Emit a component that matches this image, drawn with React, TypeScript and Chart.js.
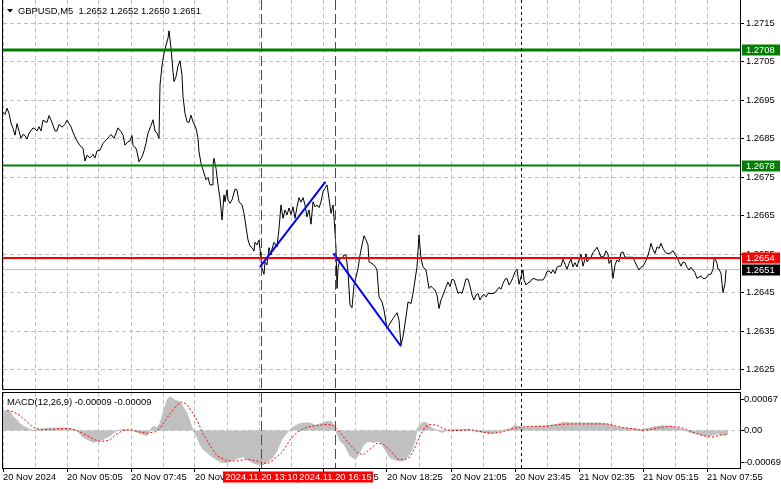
import React, { useEffect, useRef } from "react";
import { Chart, registerables } from "chart.js";

Chart.register(...registerables);

const FONT = "'Liberation Sans', Arial, sans-serif";
const FS = 9.4;

const titleText = "GBPUSD,M5  1.2652 1.2652 1.2650 1.2651";
const macdTitle = "MACD(12,26,9) -0.00009 -0.00009";

// price line: bar index -> close
const priceIdx = [
  0, 1, 2, 3, 4, 5, 6, 7, 8, 9, 10, 11, 12, 13, 15, 16, 17, 18, 19, 20, 22, 23, 24.5, 26, 27, 28, 29.5, 31, 32, 34,
  35, 37, 38.5, 40, 41, 42, 43.5, 45, 46, 47, 48.5, 50, 51.5, 53, 54, 55.5, 57.5, 59, 60, 61, 62.5, 63.5, 64.5, 65,
  66.5, 67, 68, 69.5, 70.5, 71.5, 72.5, 74, 75, 76, 77, 78, 78.5, 79.5, 80.5, 81.5, 82.5, 83, 84, 85, 85.5, 86.5,
  87.5, 88.5, 89.5, 90, 91, 92, 93, 94, 95, 96.5, 97.5, 98, 99, 100, 101.5, 102.5, 103.5, 104.5, 105, 105.5, 106.5,
  107.5, 108.5, 109.5, 110.5, 111, 112, 112.5, 113.5, 114.5, 116, 117, 118, 119.5, 120.5, 121.5, 122.5, 123.5,
  124.5, 125.5, 126, 127, 128, 128.5, 129.5, 130.5, 131, 132, 133, 134, 134.5, 135.5, 137, 138, 139, 140, 141, 142,
  143, 144, 145, 146, 147, 148, 149, 150, 151, 152, 153, 154, 155, 156, 157, 158, 159, 160, 161, 162, 163, 164, 165,
  165.5, 166.5, 167, 167.5, 168.5, 169.5, 170.5, 171.5, 172.5, 173.5, 174.5, 175.5, 176.5, 177.5, 178.5, 179.5,
  180.5, 181.5, 182.5, 183, 184.5, 186, 187, 188, 189.5, 190.5, 192, 193.5, 195, 197, 198, 199, 200, 201.5, 202.5,
  204, 205, 206, 207, 208, 209, 210, 211.5, 213, 214, 215, 216, 217, 218, 219, 220, 221.5, 222.5, 223.5, 224.5,
  225.5, 226.5, 227.5, 228.5, 229.5, 230.5, 231.5, 232.5, 233.5, 234.5, 235.5, 236.5, 237.5, 238.5, 239.5, 240.5,
  241.5, 242.5, 244, 245, 246, 247, 248, 249, 250, 251, 252, 253, 254, 255, 256, 257, 258, 259, 260, 260.5, 261.5,
  262.5, 263.5, 264.5, 265.5, 267, 268.5, 270, 271, 272, 273, 274, 275, 276, 277, 278, 279, 280, 281, 282, 283, 284,
  285, 286, 287, 288, 289, 290, 291, 291.5, 292, 293, 294, 295, 296, 297, 298, 299, 300.5, 301.5, 302.5, 303, 304,
  305, 306, 307, 308, 309, 310, 311, 312, 313.5, 315, 316, 317, 318, 319, 320, 321, 322, 323, 324, 325, 326, 327,
  328, 329, 330, 331, 332, 333, 334, 335, 336, 337, 338, 339, 340, 341, 342, 343, 344, 345, 346, 347, 348, 349, 350,
  351, 352, 353, 354, 355, 355.5, 356, 357, 357.5, 358, 359, 359.5, 360, 361, 361.5,
];
const priceVal = [
  1.26919, 1.26913, 1.26929, 1.26916, 1.2689, 1.26877, 1.26859, 1.26889, 1.2687, 1.26851, 1.26861, 1.26858, 1.26849,
  1.26864, 1.26878, 1.26875, 1.2687, 1.26881, 1.2687, 1.26898, 1.26892, 1.2691, 1.26892, 1.2687, 1.2687, 1.26887,
  1.2688, 1.26887, 1.26898, 1.26881, 1.26866, 1.26844, 1.26832, 1.26825, 1.26792, 1.26807, 1.268, 1.26809, 1.268,
  1.26818, 1.2682, 1.26838, 1.26846, 1.26855, 1.26861, 1.26851, 1.26878, 1.26868, 1.26859, 1.26833, 1.26842, 1.26844,
  1.26858, 1.26832, 1.26825, 1.26816, 1.2679, 1.26803, 1.26818, 1.26838, 1.26864, 1.26884, 1.26899, 1.2687, 1.26864,
  1.26851, 1.26989, 1.27039, 1.27072, 1.27093, 1.27111, 1.2713, 1.27085, 1.27024, 1.26998, 1.27011, 1.27039, 1.27052,
  1.27015, 1.26959, 1.26916, 1.26894, 1.26892, 1.26911, 1.26894, 1.26877, 1.26851, 1.26816, 1.26786, 1.26769,
  1.26743, 1.26749, 1.2673, 1.2673, 1.26782, 1.26799, 1.26773, 1.2673, 1.26695, 1.26639, 1.26704, 1.26686, 1.26717,
  1.26691, 1.26682, 1.26691, 1.26719, 1.26717, 1.26686, 1.26678, 1.26656, 1.26621, 1.26587, 1.26571, 1.26567,
  1.26558, 1.26581, 1.26574, 1.26587, 1.26565, 1.26513, 1.26498, 1.2653, 1.26522, 1.26567, 1.26548, 1.26563,
  1.26581, 1.26569, 1.26617, 1.26678, 1.26643, 1.26665, 1.26652, 1.2667, 1.26653, 1.26673, 1.26643, 1.26673,
  1.26697, 1.26685, 1.26697, 1.26678, 1.26647, 1.26665, 1.26628, 1.26686, 1.26673, 1.26678, 1.26671, 1.26686,
  1.26712, 1.26721, 1.2673, 1.26695, 1.26656, 1.26678, 1.26647, 1.26565, 1.26461, 1.26513, 1.26539, 1.26539,
  1.26548, 1.26548, 1.26504, 1.26418, 1.26411, 1.2647, 1.26491, 1.26513, 1.26548, 1.26574, 1.26598, 1.26587,
  1.26574, 1.2653, 1.26526, 1.26519, 1.26509, 1.26439, 1.26426, 1.26405, 1.26357, 1.2637, 1.26383, 1.26398, 1.26379,
  1.26314, 1.26336, 1.26387, 1.26426, 1.26422, 1.26448, 1.26483, 1.26517, 1.266, 1.26539, 1.26517, 1.26509, 1.26461,
  1.26467, 1.26461, 1.26457, 1.26444, 1.26409, 1.26431, 1.26444, 1.26465, 1.26478, 1.26466, 1.26485, 1.26483,
  1.26466, 1.26448, 1.26452, 1.26448, 1.26466, 1.26486, 1.26485, 1.26467, 1.26444, 1.26431, 1.26444, 1.26448,
  1.26431, 1.26441, 1.26446, 1.26439, 1.26448, 1.26448, 1.26448, 1.2645, 1.26457, 1.26464, 1.26459, 1.26474,
  1.26485, 1.26487, 1.2647, 1.26478, 1.2649, 1.26504, 1.26511, 1.26472, 1.26491, 1.26509, 1.26483, 1.2647, 1.26476,
  1.26478, 1.26485, 1.26487, 1.26483, 1.26483, 1.26483, 1.26491, 1.26505, 1.26507, 1.265, 1.26509, 1.265, 1.26516,
  1.26519, 1.26519, 1.26537, 1.26524, 1.26511, 1.26526, 1.26537, 1.26517, 1.26528, 1.26517, 1.26535, 1.2655,
  1.26519, 1.26537, 1.26551, 1.2653, 1.26537, 1.26542, 1.26554, 1.26561, 1.26568, 1.26556, 1.26542, 1.26545,
  1.26559, 1.2655, 1.26526, 1.26535, 1.26487, 1.26522, 1.26535, 1.2653, 1.26554, 1.26556, 1.26542, 1.26542, 1.26542,
  1.26542, 1.2653, 1.26519, 1.26509, 1.26516, 1.26519, 1.26528, 1.26539, 1.26556, 1.26578, 1.26562, 1.26552,
  1.26569, 1.26565, 1.26578, 1.26565, 1.26556, 1.26552, 1.26552, 1.26554, 1.26559, 1.2655, 1.26542, 1.2653, 1.26519,
  1.2653, 1.26528, 1.26516, 1.26509, 1.26516, 1.26509, 1.26502, 1.26487, 1.26491, 1.26493, 1.26487, 1.26487,
  1.26491, 1.26498, 1.26498, 1.26511, 1.26537, 1.26539, 1.26526, 1.26511, 1.26511, 1.265, 1.26474, 1.2645, 1.26474,
  1.26509,
];

// MACD main (histogram)
const histIdx = [
  0, 3.5, 5, 7, 8.5, 11, 13.5, 15, 22, 32, 37, 40, 45, 48.5, 53.5, 57, 60, 65, 68.5, 72, 73.5, 75, 77, 78.5, 80, 82,
  83.5, 85, 87, 88.5, 90, 92, 93.5, 95, 97, 98.5, 100, 102, 104.5, 107, 109.5, 112, 115, 117.5, 120, 122, 124.5, 127,
  130, 132, 134.5, 137, 139.5, 142, 143.5, 145, 147.5, 150, 153.5, 156, 158.5, 161, 163.5, 165, 167, 168.5, 171,
  173.5, 176, 177.5, 180, 182.5, 185, 188.5, 191, 193.5, 197, 199.5, 202, 204.5, 206, 207, 208.5, 210, 212, 213.5,
  215, 217.5, 219.5, 222, 227, 232, 237, 240, 243.5, 247, 250, 253.5, 256, 258.5, 263.5, 268.5, 273.5, 277, 280,
  285, 292, 298.5, 303.5, 307, 312, 318.5, 322, 327, 330, 333.5, 337, 340, 343.5, 347, 350, 353.5, 357, 360, 362.5,
];
const histVal = [
  0.00043, 0.0004, 0.0003, 0.00022, 0.00014, 0.00007, 0.00002, 0, 0.00005, 0.00005, 0, -0.00014, -0.00025, -0.00022,
  -0.00011, 0, 0.00002, 0, -0.00006, -0.00011, 0, 0.00009, 0.00006, 0.00015, 0.00037, 0.00065, 0.00072, 0.00067,
  0.00063, 0.00061, 0.0005, 0.00036, 0.00018, 0, -0.00014, -0.00029, -0.0004, -0.00047, -0.00056, -0.00063, -0.00068,
  -0.00068, -0.00063, -0.00059, -0.00056, -0.00061, -0.00068, -0.00072, -0.00073, -0.00068, -0.00059, -0.00043,
  -0.00018, -0.00004, 0.00002, 0.00007, 0.00013, 0.00016, 0.00016, 0.00011, 0.00014, 0.00018, 0.0002, 0.00015,
  -0.00007, -0.00022, -0.00032, -0.00054, -0.00061, -0.00054, -0.00032, -0.00023, -0.00025, -0.00023, -0.0004,
  -0.00058, -0.00064, -0.00065, -0.00058, -0.0004, -0.00022, 0.00004, 0.00011, 0.00018, 0.00016, 0.00007, 0.00004, 0,
  -0.00004, 0, 0.00002, 0.00002, -0.00002, -0.00004, -0.00006, -0.00004, 0, 0.00004, 0.00011, 0.00007, 0.00007,
  0.00009, 0.00011, 0.00013, 0.00017, 0.00016, 0.00016, 0.00016, 0.00013, 0.00007, 0.00005, 0.00002, 0.00004,
  0.00009, 0.0001, 0.00009, 0.00006, 0.00002, -0.00004, -0.00007, -0.00011, -0.00011, -0.00007, -0.00009, -0.00009,
];

// MACD signal line
const sigIdx = [
  2, 5, 8.5, 12, 15, 18.5, 23.5, 28.5, 33.5, 37, 42, 47, 50, 53.5, 57, 60, 63.5, 67, 72, 77, 80, 83.5, 87, 89.5, 92,
  94.5, 97, 100, 103.5, 107, 112, 117, 122, 127, 132, 135, 139.5, 143.5, 147, 152, 157, 162, 165, 168.5, 172.5, 177,
  180, 183.5, 187, 190, 193.5, 197.5, 201, 203.5, 206, 208.5, 211, 213.5, 217, 220, 223.5, 228.5, 233.5, 238.5, 242,
  245, 248.5, 252, 255, 258.5, 265, 272, 278.5, 285, 292, 302, 305, 310, 315, 320, 323.5, 328.5, 333.5, 338.5, 342,
  345, 348.5, 352, 355, 358.5, 362,
];
const sigVal = [
  0.00043, 0.0004, 0.00032, 0.00018, 0.00007, 0.00002, 0.00002, 0.00004, 0.00004, 0, -0.00011, -0.00022, -0.00023,
  -0.0002, -0.00007, 0, 0.00002, -0.00002, -0.00006, -0.00002, 0.00014, 0.00036, 0.00054, 0.00061, 0.00056, 0.0004,
  0.00022, -0.00007, -0.00032, -0.00054, -0.00065, -0.00065, -0.00061, -0.00065, -0.00071, -0.00063, -0.00047,
  -0.0002, -0.00004, 0.00007, 0.00011, 0.00013, 0.00011, -0.00004, -0.00025, -0.00047, -0.00052, -0.0004, -0.00027,
  -0.00029, -0.00042, -0.00061, -0.00063, -0.00056, -0.00036, -0.00011, 0.00007, 0.00013, 0.00011, 0.00004, 0, 0,
  0.00002, -0.00002, -0.00005, -0.00006, -0.00004, 0, 0.00004, 0.00007, 0.00009, 0.00009, 0.00013, 0.00014, 0.00014,
  0.00014, 0.00011, 0.00006, 0.00004, 0, 0.00002, 0.00006, 0.00009, 0.00007, 0.00002, -0.00004, -0.00009, -0.00013,
  -0.00014, -0.0001, -0.00009,
];

const xGridIdx = [0, 16, 32, 48, 64, 80, 96, 112, 128, 144, 160, 176, 192, 208, 224, 240, 256, 272, 288, 304, 320, 336, 352];
const xLabelIdx = [0, 32, 64, 96, 128, 160, 192, 224, 256, 288, 320, 352];
const xLabels = [
  "20 Nov 2024", "20 Nov 05:05", "20 Nov 07:45", "20 Nov 10:25", "20 Nov 13:05", "20 Nov 15:45",
  "20 Nov 18:25", "20 Nov 21:05", "20 Nov 23:45", "21 Nov 02:35", "21 Nov 05:15", "21 Nov 07:55",
];
const priceTicks = [1.2625, 1.2635, 1.2645, 1.2655, 1.2665, 1.2675, 1.2685, 1.2695, 1.2705, 1.2715];
const macdTicks = [-0.00069, 0, 0.00067];
const macdTickLabels = ["-0.00069", "0.00", "0.00067"];

const greenLevels = [1.2708, 1.2678];
const redLevel = 1.2654;
const lastPrice = 1.2651;

const eventIdx = [129, 166];
const eventLabels = ["2024.11.20 13:10", "2024.11.20 16:15"];
const dottedIdx = [259];

const trend1Idx = [128.5, 161.2];
const trend1Val = [1.26517, 1.26738];
const trend2Idx = [165.2, 199];
const trend2Val = [1.26552, 1.26311];

const X_MIN = 0;
const X_MAX = 368.5;
const P_MIN = 1.262;
const P_MAX = 1.2721;
const M_MIN = -0.0008;
const M_MAX = 0.0008;

const GRID = "#c0c0c0";

const pts = (xs: number[], ys: number[]) => xs.map((x, i) => ({ x, y: ys[i] }));
const lineDs = (data: any[], color: string, width: number, dash: number[] = []) => ({
  data,
  borderColor: color,
  borderWidth: width,
  borderDash: dash,
  pointRadius: 0,
  fill: false,
  tension: 0,
  borderJoinStyle: "round" as const,
});

const markers = {
  id: "markers",
  afterDatasetsDraw(chart: any) {
    const { ctx, chartArea: a, scales } = chart;
    const x = scales.x;
    ctx.save();
    ctx.lineWidth = 1;
    ctx.strokeStyle = "#ff0000";
    ctx.setLineDash([10, 4]);
    eventIdx.forEach((i) => {
      const px = Math.floor(x.getPixelForValue(i)) + 0.5;
      ctx.beginPath();
      ctx.moveTo(px, a.top);
      ctx.lineTo(px, a.bottom);
      ctx.stroke();
    });
    ctx.strokeStyle = "#000000";
    ctx.setLineDash([3, 3]);
    dottedIdx.forEach((i) => {
      const px = Math.floor(x.getPixelForValue(i)) + 0.5;
      ctx.beginPath();
      ctx.moveTo(px, a.top);
      ctx.lineTo(px, a.bottom);
      ctx.stroke();
    });
    ctx.restore();
  },
};

const mainDecor = {
  id: "mainDecor",
  afterDraw(chart: any) {
    const { ctx, chartArea: a, scales } = chart;
    ctx.save();
    ctx.setLineDash([]);
    ctx.strokeStyle = "#000";
    ctx.lineWidth = 1;
    ctx.beginPath();
    ctx.moveTo(a.left - 0.5, 0);
    ctx.lineTo(a.left - 0.5, a.bottom + 0.5);
    ctx.lineTo(a.right + 0.5, a.bottom + 0.5);
    ctx.lineTo(a.right + 0.5, 0);
    ctx.stroke();
    // title
    ctx.fillStyle = "#000";
    ctx.beginPath();
    ctx.moveTo(7, 9);
    ctx.lineTo(13, 9);
    ctx.lineTo(10, 12.5);
    ctx.closePath();
    ctx.fill();
    ctx.font = `${FS}px ${FONT}`;
    ctx.textBaseline = "middle";
    ctx.textAlign = "left";
    ctx.fillText(titleText, 18, 11);
    // price tags
    const y = scales.y;
    const tags: [number, string][] = [
      [greenLevels[0], "#008000"],
      [greenLevels[1], "#008000"],
      [redLevel, "#ff0000"],
      [lastPrice, "#000000"],
    ];
    tags.forEach(([v, c]) => {
      const py = Math.round(y.getPixelForValue(v));
      ctx.fillStyle = c;
      ctx.fillRect(a.right + 2, py - 5.5, 38, 11);
      ctx.fillStyle = "#fff";
      ctx.fillText(v.toFixed(4), a.right + 6, py + 0.5);
    });
    ctx.restore();
  },
};

const macdDecor = {
  id: "macdDecor",
  afterDraw(chart: any) {
    const { ctx, chartArea: a, scales } = chart;
    ctx.save();
    ctx.setLineDash([]);
    ctx.strokeStyle = "#000";
    ctx.lineWidth = 1;
    ctx.strokeRect(a.left - 0.5, a.top - 0.5, a.right - a.left + 1, a.bottom - a.top + 1);
    ctx.font = `${FS}px ${FONT}`;
    ctx.textBaseline = "middle";
    ctx.textAlign = "left";
    ctx.fillStyle = "#000";
    ctx.fillText(macdTitle, 7, a.top + 9);
    const x = scales.x;
    eventIdx.forEach((i, k) => {
      const px = Math.floor(x.getPixelForValue(i)) + 0.5;
      const w = ctx.measureText(eventLabels[k]).width + 4;
      ctx.fillStyle = "#ff0000";
      ctx.fillRect(Math.round(px - w / 2), a.bottom + 3.5, Math.round(w), 11);
      ctx.fillStyle = "#fff";
      ctx.textAlign = "center";
      ctx.fillText(eventLabels[k], px, a.bottom + 9.5);
    });
    ctx.restore();
  },
};

export default function App() {
  const mainRef = useRef<HTMLCanvasElement>(null);
  const macdRef = useRef<HTMLCanvasElement>(null);

  useEffect(() => {
    const tickFont = { family: FONT, size: FS };
    const main = new Chart(mainRef.current as HTMLCanvasElement, {
      type: "line",
      data: {
        datasets: [
          lineDs(pts(trend1Idx, trend1Val), "#0000ff", 2),
          lineDs(pts(trend2Idx, trend2Val), "#0000ff", 2),
          lineDs(pts([X_MIN, X_MAX], [redLevel, redLevel]), "#ff0000", 2),
          lineDs(pts([X_MIN, X_MAX], [greenLevels[0], greenLevels[0]]), "#008000", 3),
          lineDs(pts([X_MIN, X_MAX], [greenLevels[1], greenLevels[1]]), "#008000", 2),
          lineDs(pts(priceIdx, priceVal), "#000000", 1),
          lineDs(pts([X_MIN, X_MAX], [lastPrice, lastPrice]), GRID, 1),
        ] as any,
      },
      options: {
        animation: false,
        responsive: false,
        maintainAspectRatio: false,
        devicePixelRatio: 1,
        events: [],
        layout: { padding: { left: 3, right: 0, top: 0, bottom: 1 } },
        plugins: { legend: { display: false }, tooltip: { enabled: false } },
        scales: {
          x: {
            type: "linear",
            min: X_MIN,
            max: X_MAX,
            afterBuildTicks: (s: any) => {
              s.ticks = xGridIdx.map((v) => ({ value: v }));
            },
            ticks: { display: false },
            grid: { color: GRID, drawTicks: false, lineWidth: 1 },
            border: { display: false, dash: [4, 3] },
            afterFit: (s: any) => {
              s.height = 0;
              s.paddingLeft = 0;
              s.paddingRight = 0;
            },
          },
          y: {
            type: "linear",
            position: "right",
            min: P_MIN,
            max: P_MAX,
            afterBuildTicks: (s: any) => {
              s.ticks = priceTicks.map((v) => ({ value: v }));
            },
            ticks: {
              font: tickFont,
              color: "#000",
              padding: 2,
              autoSkip: false,
              callback: (v: any) => Number(v).toFixed(4),
            },
            grid: { color: GRID, tickColor: "#000", tickLength: 4, tickWidth: 1, tickBorderDash: [] },
            border: { display: false, dash: [4, 3] },
            afterFit: (s: any) => {
              s.width = 41;
              s.paddingTop = 0;
              s.paddingBottom = 0;
            },
          },
        },
      } as any,
      plugins: [markers, mainDecor],
    });

    const macd = new Chart(macdRef.current as HTMLCanvasElement, {
      type: "line",
      data: {
        datasets: [
          lineDs(pts(sigIdx, sigVal), "#ff0000", 1, [2, 2]),
          {
            data: pts(histIdx, histVal),
            borderColor: GRID,
            backgroundColor: GRID,
            borderWidth: 1,
            pointRadius: 0,
            tension: 0,
            fill: "origin",
          },
        ] as any,
      },
      options: {
        animation: false,
        responsive: false,
        maintainAspectRatio: false,
        devicePixelRatio: 1,
        events: [],
        layout: { padding: { left: 3, right: 0, top: 3, bottom: 0 } },
        plugins: { legend: { display: false }, tooltip: { enabled: false } },
        scales: {
          x: {
            type: "linear",
            min: X_MIN,
            max: X_MAX,
            afterBuildTicks: (s: any) => {
              s.ticks = xGridIdx.map((v) => ({ value: v }));
            },
            ticks: {
              font: tickFont,
              color: "#000",
              padding: 0,
              autoSkip: false,
              maxRotation: 0,
              minRotation: 0,
              align: "start",
              callback: (v: any) => {
                const k = xLabelIdx.indexOf(Number(v));
                return k >= 0 ? xLabels[k] : "";
              },
            },
            grid: {
              color: GRID,
              tickLength: 4,
              tickWidth: 1,
              tickBorderDash: [],
              tickColor: (c: any) =>
                c.tick && xLabelIdx.indexOf(c.tick.value) >= 0 ? "#000" : "rgba(0,0,0,0)",
            },
            border: { display: false, dash: [4, 3] },
            afterFit: (s: any) => {
              s.height = 21;
              s.paddingLeft = 0;
              s.paddingRight = 0;
            },
          },
          y: {
            type: "linear",
            position: "right",
            min: M_MIN,
            max: M_MAX,
            afterBuildTicks: (s: any) => {
              s.ticks = macdTicks.map((v) => ({ value: v }));
            },
            ticks: {
              font: tickFont,
              color: "#000",
              padding: 0,
              autoSkip: false,
              callback: (v: any) => {
                const k = macdTicks.indexOf(Number(v));
                return k >= 0 ? macdTickLabels[k] : "";
              },
            },
            grid: {
              color: (c: any) => (c.tick && c.tick.value === 0 ? GRID : "rgba(0,0,0,0)"),
              tickColor: "#000",
              tickLength: 4,
              tickWidth: 1,
              tickBorderDash: [],
            },
            border: { display: false, dash: [4, 3] },
            afterFit: (s: any) => {
              s.width = 41;
              s.paddingTop = 0;
              s.paddingBottom = 0;
            },
          },
        },
      } as any,
      plugins: [markers, macdDecor],
    });

    return () => {
      main.destroy();
      macd.destroy();
    };
  }, []);

  return (
    <div style={{ position: "absolute", left: 0, top: 0, width: 781, height: 489, background: "#fff" }}>
      <canvas
        ref={mainRef}
        width={781}
        height={390}
        style={{ position: "absolute", left: 0, top: 0, width: 781, height: 390 }}
      />
      <canvas
        ref={macdRef}
        width={781}
        height={99}
        style={{ position: "absolute", left: 0, top: 390, width: 781, height: 99 }}
      />
    </div>
  );
}
